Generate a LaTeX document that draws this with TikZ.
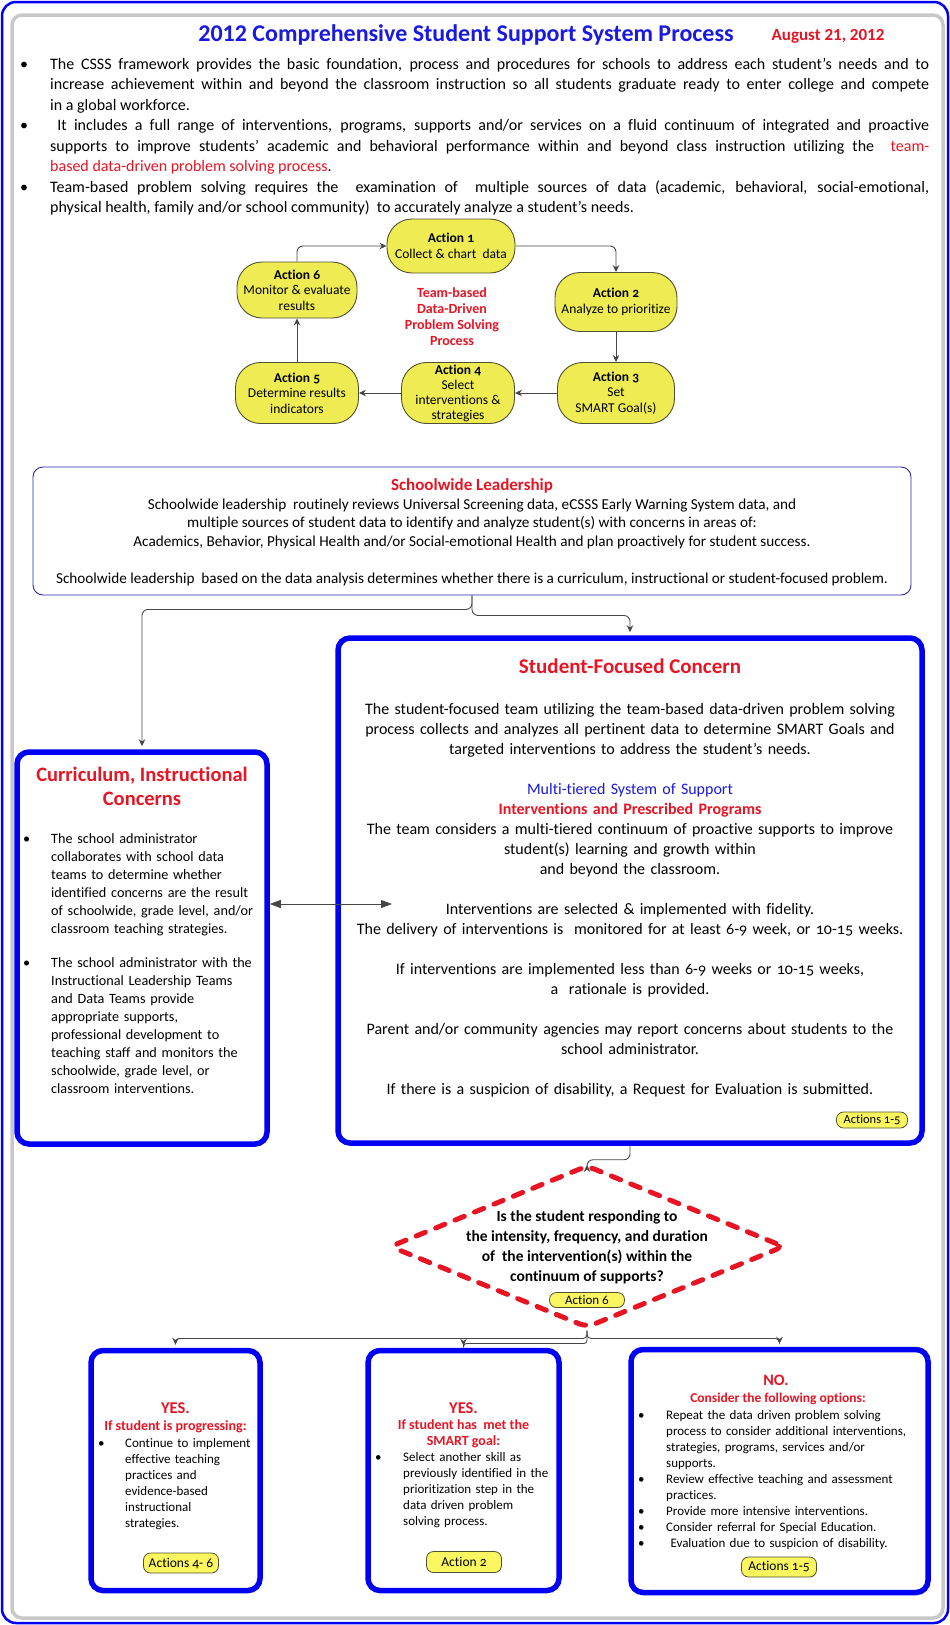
\documentclass[tikz,border=0pt]{standalone}
\usepackage{fontspec}
\setmainfont{Carlito}[Numbers=OldStyle,Ligatures=NoCommon]
\newfontfamily\calib{Carlito}[Ligatures=NoCommon]
\usetikzlibrary{arrows.meta,shapes.geometric}
\definecolor{tblue}{RGB}{25,25,225}
\definecolor{tred}{RGB}{232,20,35}
\definecolor{bblue}{RGB}{0,0,242}
\definecolor{cyel}{RGB}{238,236,82}
\definecolor{pyel}{RGB}{250,246,95}
\definecolor{connc}{RGB}{70,70,70}
\definecolor{navy}{RGB}{40,40,170}
\definecolor{fgray}{RGB}{200,200,200}
\definecolor{cyb}{RGB}{80,80,50}
\newcommand\bl[1]{\leavevmode\llap{\makebox[#1][l]{\textbullet}}}
\begin{document}
\begin{tikzpicture}[x=1pt,y=-1pt,
  bigbox/.style={draw=bblue, line width=5.5pt, rounded corners=12pt, inner sep=0pt},
  cyc/.style={draw=cyb, fill=cyel, line width=0.9pt, rounded corners=25pt, inner sep=1pt, align=center, font=\fontsize{13.5}{15.5}\selectfont},
  pill/.style={draw=cyb, fill=pyel, line width=0.8pt, rounded corners=7pt, inner sep=0pt},
  flow/.style={draw=connc, line width=0.9pt, rounded corners=6pt, -{Stealth[length=7pt,width=6.5pt]}},
  txt/.style={inner sep=0pt},
]
\useasboundingbox (0,0) rectangle (950,1625);
% frame
\draw[fgray, line width=3.5pt, rounded corners=10pt] (12,15) rectangle (943,1618);
\draw[bblue, line width=2.5pt, rounded corners=14pt] (2,2) rectangle (948,1623);

% title
\node[txt, anchor=base, font=\calib\bfseries\fontsize{24}{28}\selectfont, text=tblue] (title) at (466,41) {2012 Comprehensive Student Support System Process};
\node[txt, anchor=base, font=\calib\bfseries\fontsize{17}{20}\selectfont, text=tred] (date) at (828,40) {August 21, 2012};

% intro bullets
\node[txt, anchor=north west, text width=879pt, align=justify, font=\calib\fontsize{16}{20.5}\selectfont] (intro) at (50,54.6) {%
\strut\bl{30pt}The CSSS framework provides the basic foundation, process and procedures for schools to address each student’s needs and to\linebreak increase achievement within and beyond the classroom instruction so all students graduate ready to enter college and compete\linebreak in a global workforce.\par
\bl{30pt}\ It includes a full range of interventions, programs, supports and/or services on a fluid continuum of integrated and proactive\linebreak supports to improve students’ academic and behavioral performance within and beyond class instruction utilizing the\ \ {\color{tred}team-\linebreak based data-driven problem solving process}.\par
\bl{30pt}Team-based problem solving requires the\ \ examination of\ \ multiple sources of data (academic, behavioral, social-emotional,\linebreak physical health, family and/or school community)\ \ to accurately analyze a student’s needs.};

% cycle
\node[cyc, minimum width=128pt, minimum height=54pt] (a1) at (451,246) {\textbf{Action 1}\\Collect \& chart\ \ data};
\node[cyc, minimum width=122pt, minimum height=59pt] (a2) at (616,302) {\textbf{Action 2}\\Analyze to prioritize};
\node[cyc, minimum width=117pt, minimum height=61pt] (a3) at (616,393) {\textbf{Action 3}\\Set\\SMART Goal(s)};
\node[cyc, minimum width=113pt, minimum height=61pt, font=\fontsize{13.5}{15}\selectfont] (a4) at (458,393) {\textbf{Action 4}\\Select\\interventions \&\\strategies};
\node[cyc, minimum width=123pt, minimum height=61pt] (a5) at (297,393) {\textbf{Action 5}\\Determine results\\indicators};
\node[cyc, minimum width=120pt, minimum height=56pt] (a6) at (297,290) {\textbf{Action 6}\\Monitor \& evaluate\\results};
\node[txt, anchor=north, align=center, text=tred, font=\bfseries\fontsize{14}{16}\selectfont] (ctr) at (452,286) {\strut Team-based\\Data-Driven\\Problem Solving\\Process};
\draw[flow] (a6.north) |- (a1.west);
\draw[flow] (a1.east) -| (a2.north);
\draw[flow] (a2.south) -- (a3.north);
\draw[flow] (a3.west) -- (a4.east);
\draw[flow] (a4.west) -- (a5.east);
\draw[flow] (a5.north) -- (a6.south);

% schoolwide leadership
\node[draw=navy, line width=0.9pt, rounded corners=10pt, minimum width=878pt, minimum height=128pt, inner sep=0pt] (sl) at (472,531) {};
\node[txt, anchor=base, text=tred, font=\calib\bfseries\fontsize{17}{20}\selectfont] (slt) at (472,490) {Schoolwide Leadership};
\node[txt, anchor=north, align=center, font=\calib\fontsize{15.2}{18.5}\selectfont] (slx) at (472,496) {\strut Schoolwide leadership\ \ routinely reviews Universal Screening data, eCSSS Early Warning System data, and\\
multiple sources of student data to identify and analyze student(s) with concerns in areas of:\\
Academics, Behavior, Physical Health and/or Social-emotional Health and plan proactively for student success.\\[18.5pt]
Schoolwide leadership\ \ based on the data analysis determines whether there is a curriculum, instructional or student-focused problem.};

% curriculum box
\node[bigbox, minimum width=250pt, minimum height=392pt] (ci) at (142,948) {};
\node[txt, anchor=north, align=center, text=tred, font=\bfseries\fontsize{20.5}{24}\selectfont] (cit) at (142,764.7) {\strut Curriculum, Instructional\\Concerns};
\node[txt, anchor=north west, align=left, text width=215pt, font=\fontsize{14.2}{18}\selectfont] (cix) at (51,830.4) {\strut\bl{28pt}The school administrator\\collaborates with school data\\teams to determine whether\\identified concerns are the result\\of schoolwide, grade level, and/or\\classroom teaching strategies.\\[16pt]
\bl{28pt}The school administrator with the\\Instructional Leadership Teams\\and Data Teams provide\\appropriate supports,\\professional development to\\teaching staff and monitors the\\schoolwide, grade level, or\\classroom interventions.};

% student-focused box
\node[bigbox, minimum width=584pt, minimum height=505pt] (sf) at (630,890.5) {};
\node[txt, anchor=base, text=tred, font=\bfseries\fontsize{21}{25}\selectfont] (sft) at (630,673.5) {Student-Focused Concern};
\node[txt, anchor=north, align=center, text width=584pt, font=\fontsize{16}{20}\selectfont] (sfx) at (630,699.8) {\strut The student-focused team utilizing the team-based data-driven problem solving\\
process collects and analyzes all pertinent data to determine SMART Goals and\\
targeted interventions to address the student’s needs.\\[20pt]
{\color{tblue}Multi-tiered System of Support}\\
{\color{tred}\bfseries Interventions and Prescribed Programs}\\
The team considers a multi-tiered continuum of proactive supports to improve\\
student(s) learning and growth within\\
and beyond the classroom.\\[20pt]
Interventions are selected \& implemented with fidelity.\\
The delivery of interventions is\ \ monitored for at least 6-9 week, or 10-15 weeks.\\[20pt]
If interventions are implemented less than 6-9 weeks or 10-15 weeks,\\
a\ \ rationale is provided.\\[20pt]
Parent and/or community agencies may report concerns about students to the\\
school administrator.\\[20pt]
If there is a suspicion of disability, a Request for Evaluation is submitted.};
\node[pill, minimum width=71pt, minimum height=16pt, font=\fontsize{12.5}{14}\selectfont] (p15a) at (872,1120) {Actions 1-5};

\draw[flow, shorten >=3pt] (sl.south) -- ++(0,14) -| (ci.north);
\draw[flow, shorten >=3pt] (sl.south) -- ++(0,20) -| (sf.north);
\coordinate (dA) at (392,904);
\draw[connc, line width=0.9pt, {Triangle[length=11pt,width=8pt]}-{Triangle[length=11pt,width=8pt]}] (ci.east |- dA) -- (dA);

% decision
\node[diamond, draw=tred, line width=5pt, dash pattern=on 10pt off 11pt, line cap=round, rounded corners=8pt, minimum width=395pt, minimum height=163pt, inner sep=0pt] (dec) at (587,1246.5) {};
\node[txt, anchor=north, align=center, font=\bfseries\fontsize{15.5}{20}\selectfont] (dect) at (587,1207.5) {\strut Is the student responding to\\the intensity, frequency, and duration\\of\ \ the intervention(s) within the\\continuum of supports?};
\node[pill, minimum width=75pt, minimum height=15pt, font=\fontsize{13}{14}\selectfont] (p6) at (587,1300) {Action 6};
\draw[flow, shorten >=2.5pt] (sf.south) -- ++(0,14) -| (dec.north);

% bottom boxes
\node[bigbox, minimum width=169pt, minimum height=240pt] (bl) at (175.5,1470.5) {};
\node[bigbox, minimum width=191pt, minimum height=240pt] (bm) at (463.5,1470.5) {};
\node[bigbox, minimum width=297pt, minimum height=243pt] (br) at (779.5,1471) {};
\draw[flow, rounded corners=4pt, shorten >=3pt] (dec.south) -- ++(0,8) -| (bl.north);
\draw[flow, rounded corners=4pt, shorten >=3pt] (dec.south) -- ++(0,8) -| (br.north);
\draw[flow, rounded corners=3pt, shorten >=2pt] (dec.south) -- ++(0,13) -| (bm.north);

\node[txt, anchor=base, text=tred, font=\bfseries\fontsize{16.5}{18}\selectfont] (bly) at (175.5,1413.5) {YES.};
\node[txt, anchor=base, text=tred, font=\bfseries\fontsize{14}{16}\selectfont] (bls) at (175.5,1430.5) {If student is progressing:};
\node[txt, anchor=north west, align=left, text width=135pt, font=\fontsize{13}{16}\selectfont] (blx) at (125,1435.8) {\strut\bl{27pt}Continue to implement\\effective teaching\\practices and\\evidence-based\\instructional\\strategies.};
\node[pill, minimum width=75pt, minimum height=20pt, font=\fontsize{13.5}{15}\selectfont] (p46) at (181,1563) {Actions 4- 6};

\node[txt, anchor=base, text=tred, font=\bfseries\fontsize{16.5}{18}\selectfont] (bmy) at (463.5,1413.5) {YES.};
\node[txt, anchor=north, align=center, text=tred, font=\bfseries\fontsize{14}{16}\selectfont] (bms) at (463.5,1418.3) {\strut If student has\ \ met the\\SMART goal:};
\node[txt, anchor=north west, align=left, text width=150pt, font=\fontsize{13}{16}\selectfont] (bmx) at (403,1449.8) {\strut\bl{28pt}Select another skill as\\previously identified in the\\prioritization step in the\\data driven problem\\solving process.};
\node[pill, minimum width=75pt, minimum height=21pt, font=\fontsize{13.5}{15}\selectfont] (p2) at (464,1562) {Action 2};

\node[txt, anchor=base, text=tred, font=\bfseries\fontsize{16}{18}\selectfont] (bry) at (776,1385) {NO.};
\node[txt, anchor=base, text=tred, font=\bfseries\fontsize{13.5}{17}\selectfont] (brs) at (778,1402.5) {Consider the following options:};
\node[txt, anchor=north west, align=left, text width=260pt, font=\fontsize{13}{16}\selectfont] (brx) at (666,1407.8) {\strut\bl{28pt}Repeat the data driven problem solving\\process to consider additional interventions,\\strategies, programs, services and/or\\supports.\\
\bl{28pt}Review effective teaching and assessment\\practices.\\
\bl{28pt}Provide more intensive interventions.\\
\bl{28pt}Consider referral for Special Education.\\
\bl{28pt}\ Evaluation due to suspicion of disability.};
\node[pill, minimum width=75pt, minimum height=20pt, font=\fontsize{13.5}{15}\selectfont] (p15b) at (779,1567) {Actions 1-5};
\end{tikzpicture}
\end{document}
